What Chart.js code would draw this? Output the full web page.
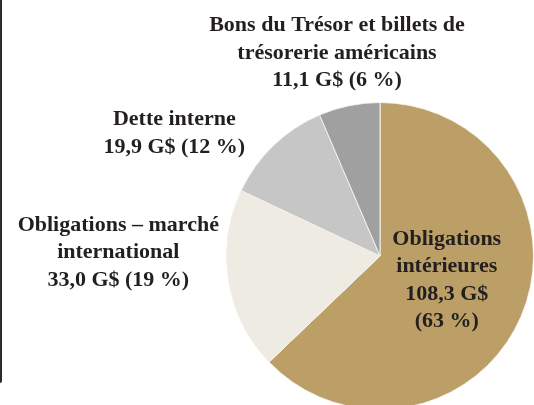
<!DOCTYPE html>
<html>
<head>
<meta charset="utf-8">
<script src="https://cdn.jsdelivr.net/npm/chart.js@4"></script>
<style>
  html, body { margin: 0; padding: 0; background: #fff; overflow: hidden; }
  #wrap { position: relative; width: 534px; height: 430px; }
  #edge { position: absolute; left: 0; top: 0; width: 2px; height: 383px; background: #2b2b2b; border-bottom-right-radius: 2px; }
</style>
</head>
<body>
<div id="wrap">
  <canvas id="pie"></canvas>
  <div id="edge"></div>
</div>
<script>
// Composition of debt (G$), clockwise from 12 o'clock
const categories = [
  ["Obligations", "intérieures"],
  ["Obligations – marché", "international"],
  ["Dette interne"],
  ["Bons du Trésor et billets de", "trésorerie américains"]
];
const amounts = [108.3, 33.0, 19.9, 11.1];
const amountLabels = ["108,3 G$", "33,0 G$", "19,9 G$", "11,1 G$"];
const pctLabels = ["(63 %)", "(19 %)", "(12 %)", "(6 %)"];
const sliceColors = ["#bb9f67", "#eeebe3", "#c6c6c6", "#a0a0a0"];

// label line arrays per slice; first slice splits amount and pct on two lines
const labelLines = categories.map((c, i) => {
  if (i === 0) return c.concat([amountLabels[i], pctLabels[i]]);
  return c.concat([amountLabels[i] + " " + pctLabels[i]]);
});

// label anchor offsets from the pie centre (dx, dy of first line), in radius units
const labelAnchors = [
  { dx: 0.435, dy: -0.11 },
  { dx: -1.705, dy: -0.2 },
  { dx: -1.34, dy: -0.89 },
  { dx: -0.28, dy: -1.5 }
];

const sliceLabels = {
  id: "sliceLabels",
  afterDatasetsDraw(chart) {
    const arc = chart.getDatasetMeta(0).data[0];
    if (!arc) return;
    const cx = arc.x, cy = arc.y, r = arc.outerRadius;
    const ctx = chart.ctx;
    ctx.save();
    ctx.font = "bold 22px 'Liberation Serif', 'DejaVu Serif', serif";
    ctx.fillStyle = "#231f20";
    ctx.textAlign = "center";
    ctx.textBaseline = "middle";
    const lh = 27.5;
    labelLines.forEach((lines, i) => {
      const a = labelAnchors[i];
      const x = cx + a.dx * r;
      const y = cy + a.dy * r;
      lines.forEach((t, k) => ctx.fillText(t, x, y + k * lh));
    });
    ctx.restore();
  }
};

new Chart(document.getElementById("pie"), {
  type: "pie",
  data: {
    labels: categories.map(c => c.join(" ")),
    datasets: [{
      data: amounts,
      backgroundColor: sliceColors,
      borderColor: "#f4f1ea",
      borderWidth: 1
    }]
  },
  options: {
    responsive: true,
    maintainAspectRatio: false,
    animation: false,
    layout: { padding: { left: 226, right: 0, top: 102, bottom: 20 } },
    plugins: {
      legend: { display: false },
      tooltip: { enabled: false }
    }
  },
  plugins: [sliceLabels]
});
</script>
</body>
</html>
